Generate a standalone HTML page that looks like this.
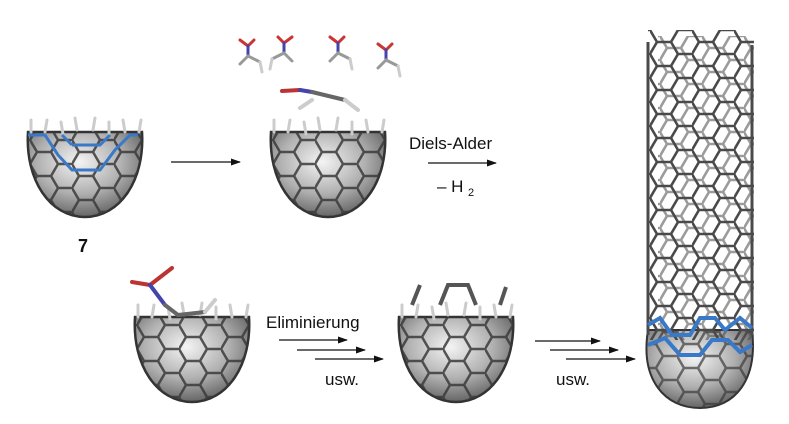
<!DOCTYPE html>
<html><head><meta charset="utf-8"><style>
html,body{margin:0;padding:0;background:#fff;}
svg{display:block}
text{font-family:"Liberation Sans",Arial,sans-serif;fill:#111}
</style></head><body>
<svg width="789" height="424" viewBox="0 0 789 424" xmlns="http://www.w3.org/2000/svg">
<defs>
<radialGradient id="g" cx="0.45" cy="0.35" r="0.75">
<stop offset="0" stop-color="#f4f4f4"/><stop offset="0.5" stop-color="#b0b0b0"/><stop offset="1" stop-color="#4a4a4a"/>
</radialGradient>
<pattern id="hex" width="42" height="24" patternUnits="userSpaceOnUse" x="5" y="8">
<path d="M0,12 L7,0 L21,0 L28,12 L21,24 L7,24 Z M28,12 L42,12" fill="none" stroke="#3a3a3a" stroke-width="2.5"/>
</pattern>
<pattern id="thex" width="42" height="24" patternUnits="userSpaceOnUse" x="650" y="42">
<path d="M0,12 L7,0 L21,0 L28,12 L21,24 L7,24 Z M28,12 L42,12" fill="none" stroke="#4a4a4a" stroke-width="2.6"/>
</pattern>
<clipPath id="tc"><rect x="648" y="30" width="106" height="310"/></clipPath>
<marker id="ah" markerWidth="10" markerHeight="8" refX="9" refY="4" orient="auto" markerUnits="userSpaceOnUse">
<path d="M0,0.5 L10,4 L0,7.5 Z" fill="#111"/></marker>
<g id="cap">
<path d="M3,12 L117,12 C120,60 95,97 60,97 C25,97 0,60 3,12Z" fill="url(#g)" stroke="#333" stroke-width="2.5"/>
<path d="M3,12 L117,12 C120,60 95,97 60,97 C25,97 0,60 3,12Z" fill="url(#hex)" opacity="0.85"/>
<g stroke="#ccc" stroke-width="3" stroke-linecap="round">
<line x1="6" y1="12" x2="6" y2="0"/><line x1="20" y1="12" x2="22" y2="0"/><line x1="38" y1="14" x2="36" y2="2"/>
<line x1="52" y1="10" x2="50" y2="-2"/><line x1="68" y1="10" x2="70" y2="-2"/><line x1="84" y1="14" x2="84" y2="2"/>
<line x1="100" y1="12" x2="98" y2="0"/><line x1="114" y1="12" x2="116" y2="0"/>
</g>
</g>
<g id="mol" stroke-width="3" stroke-linecap="round" fill="none">
<line x1="0" y1="0" x2="8" y2="6" stroke="#c33"/><line x1="8" y1="6" x2="14" y2="0" stroke="#c33"/>
<line x1="8" y1="6" x2="8" y2="16" stroke="#44a"/><line x1="8" y1="16" x2="0" y2="24" stroke="#999"/>
<line x1="8" y1="16" x2="20" y2="22" stroke="#999"/><line x1="20" y1="22" x2="22" y2="32" stroke="#ccc"/>
</g>
</defs>

<use href="#cap" transform="translate(25,120)"/>
<path d="M28,135 L45,135 L58,155 L72,170 L100,170 L115,150 L130,135 L138,135 M72,145 L100,145 L110,135 M62,135 L72,145" fill="none" stroke="#3a78c8" stroke-width="3"/>
<text x="78" y="252" font-size="18" font-weight="bold">7</text>

<line x1="171" y1="162" x2="240" y2="162" stroke="#111" stroke-width="1.3" marker-end="url(#ah)"/>

<use href="#cap" transform="translate(268,120)"/>
<g stroke-width="4" stroke-linecap="round">
<line x1="282" y1="91" x2="300" y2="90" stroke="#b33"/><line x1="300" y1="90" x2="312" y2="92" stroke="#44a"/>
<line x1="312" y1="92" x2="345" y2="100" stroke="#666"/><line x1="300" y1="108" x2="312" y2="100" stroke="#ccc"/>
<line x1="345" y1="100" x2="358" y2="110" stroke="#ccc"/>
</g>
<use href="#mol" transform="translate(240,40)"/>
<use href="#mol" transform="translate(270,37) scale(-1,1) translate(-22,0)"/>
<use href="#mol" transform="translate(330,37)"/>
<use href="#mol" transform="translate(378,44)"/>

<text x="409" y="149" font-size="17">Diels-Alder</text>
<line x1="428" y1="163" x2="496" y2="163" stroke="#111" stroke-width="1.3" marker-end="url(#ah)"/>
<text x="437" y="192" font-size="17">– H</text><text x="468" y="196" font-size="11">2</text>

<use href="#cap" transform="translate(132,305)"/>
<g stroke-width="4" stroke-linecap="round">
<line x1="132" y1="282" x2="150" y2="285" stroke="#b33"/><line x1="150" y1="285" x2="172" y2="268" stroke="#b33"/>
<line x1="150" y1="285" x2="165" y2="305" stroke="#44a"/><line x1="165" y1="305" x2="178" y2="315" stroke="#666"/>
<line x1="178" y1="315" x2="205" y2="312" stroke="#666"/><line x1="205" y1="312" x2="215" y2="300" stroke="#ccc"/>
</g>
<text x="266" y="328" font-size="17">Eliminierung</text>
<line x1="279" y1="340" x2="347" y2="340" stroke="#111" stroke-width="1.3" marker-end="url(#ah)"/>
<line x1="297" y1="350" x2="365" y2="350" stroke="#111" stroke-width="1.3" marker-end="url(#ah)"/>
<line x1="315" y1="359" x2="383" y2="359" stroke="#111" stroke-width="1.3" marker-end="url(#ah)"/>
<text x="325" y="385" font-size="17">usw.</text>

<use href="#cap" transform="translate(396,305)"/>
<path d="M412,305 L420,285 M440,305 L448,285 L468,285 L476,305 M500,305 L506,287" stroke="#555" stroke-width="4" fill="none"/>

<line x1="535" y1="341" x2="600" y2="341" stroke="#111" stroke-width="1.3" marker-end="url(#ah)"/>
<line x1="550" y1="350" x2="618" y2="350" stroke="#111" stroke-width="1.3" marker-end="url(#ah)"/>
<line x1="566" y1="359" x2="635" y2="359" stroke="#111" stroke-width="1.3" marker-end="url(#ah)"/>
<text x="556" y="385" font-size="17">usw.</text>

<path d="M648,330 C640,380 665,408 700,408 C735,408 758,380 752,330 Z" fill="url(#g)" stroke="#333" stroke-width="2"/>
<path d="M648,330 C640,380 665,408 700,408 C735,408 758,380 752,330 Z" fill="url(#hex)" opacity="0.7"/>
<g clip-path="url(#tc)">
<rect x="648" y="30" width="106" height="310" fill="url(#thex)"/>
<rect x="648" y="30" width="106" height="310" fill="url(#thex)" transform="translate(10,6)" opacity="0.55"/>
</g>
<path d="M648,42 L648,335 M752,45 L752,335" stroke="#4a4a4a" stroke-width="3"/>
<path d="M648,325 L660,318 L672,335 L690,335 L700,318 L715,318 L725,330 L740,318 L752,328 M648,345 L665,338 L680,355 L700,355 L712,340 L728,340 L740,352 L752,345" fill="none" stroke="#3a78c8" stroke-width="4"/>
</svg>
</body></html>
